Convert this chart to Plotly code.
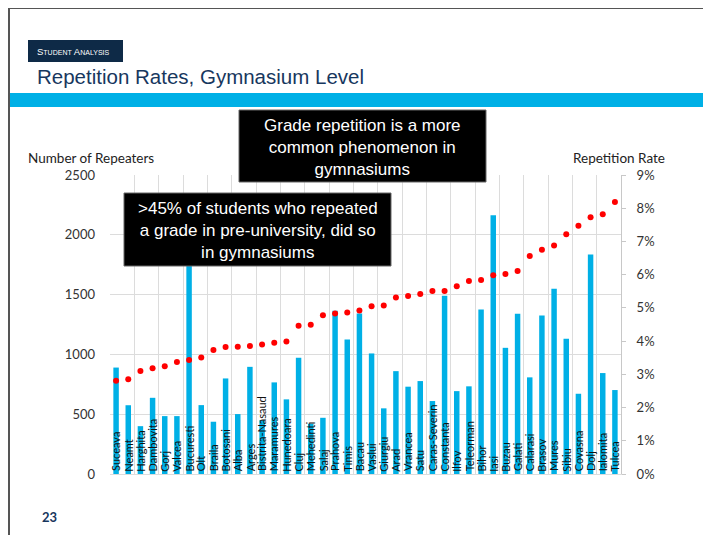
import plotly.graph_objects as go

counties = ["Suceava", "Neamt", "Harghita", "Dambovita", "Gorj", "Valcea", "Bucuresti", "Olt",
            "Braila", "Botosani", "Alba", "Arges", "Bistrita-Nasaud", "Maramures", "Hunedoara",
            "Cluj", "Mehedinti", "Salaj", "Prahova", "Timis", "Bacau", "Vaslui", "Giurgiu", "Arad",
            "Vrancea", "Satu", "Caras-Severin", "Constanta", "Ilfov", "Teleorman", "Bihor", "Iasi",
            "Buzau", "Galati", "Calarasi", "Brasov", "Mures", "Sibiu", "Covasna", "Dolj",
            "Ialomita", "Tulcea"]
repeaters = [890, 575, 400, 637, 484, 484, 2100, 576,
             437, 799, 501, 896, 450, 766, 624,
             972, 420, 470, 1364, 1125, 1342, 1008, 549, 860,
             730, 777, 610, 1490, 693, 733, 1376, 2164,
             1055, 1339, 808, 1326, 1548, 1130, 671, 1835,
             844, 702]
rate = [2.81, 2.85, 3.10, 3.18, 3.24, 3.37, 3.43, 3.51,
        3.73, 3.82, 3.83, 3.85, 3.90, 3.95, 3.99,
        4.46, 4.49, 4.78, 4.83, 4.86, 4.92, 5.05, 5.07, 5.31,
        5.36, 5.42, 5.51, 5.51, 5.65, 5.81, 5.84, 5.98,
        6.02, 6.11, 6.56, 6.75, 6.88, 7.22, 7.47, 7.73,
        7.82, 8.19]
rate = [r / 100 for r in rate]

NAVY = "#17375e"
CYAN = "#00b0e6"
GRID = "#dcdcdc"
TXT = "#333333"

# page body has an 8px margin, so the figure starts at (8, 8) in the window
OFF = 8
W, H = 711 - OFF, 535 - OFF
# plot area in window pixels
L, R, T, B = 110, 621, 175, 474


def px(x):
    return (x - L) / (R - L)


def py(y):
    return (B - y) / (B - T)


fig = go.Figure()
fig.add_trace(go.Bar(x=counties, y=repeaters, name="Repeaters",
                     marker=dict(color=CYAN, line=dict(width=0)), yaxis="y"))
fig.add_trace(go.Scatter(x=counties, y=rate, name="Rate", mode="markers",
                         marker=dict(color="#ff0000", size=6), yaxis="y2"))

# rotated county labels at bar bases
for c in counties:
    fig.add_annotation(x=c, y=5, xref="x", yref="y", text=c, textangle=-90,
                       showarrow=False, xanchor="center", yanchor="bottom",
                       font=dict(family="Lato, sans-serif", size=11, color="#111111"))

shapes = [
    # slide frame
    dict(type="line", xref="paper", yref="paper", x0=px(9), x1=px(711), y0=py(8), y1=py(8),
         line=dict(color="#555555", width=2)),
    dict(type="line", xref="paper", yref="paper", x0=px(9), x1=px(9), y0=py(8), y1=py(535),
         line=dict(color="#555555", width=2)),
    # cyan band
    dict(type="rect", xref="paper", yref="paper", x0=px(10), x1=px(711), y0=py(107), y1=py(93),
         fillcolor=CYAN, line=dict(width=0)),
    # section tag
    dict(type="rect", xref="paper", yref="paper", x0=px(28), x1=px(123), y0=py(62), y1=py(40),
         fillcolor="#0e2a47", line=dict(width=0)),
    # callout boxes
    dict(type="rect", xref="paper", yref="paper", x0=px(239), x1=px(486), y0=py(182), y1=py(110),
         fillcolor="black", line=dict(color="#666666", width=1), layer="above"),
    dict(type="rect", xref="paper", yref="paper", x0=px(124), x1=px(391), y0=py(266), y1=py(193),
         fillcolor="black", line=dict(color="#666666", width=1), layer="above"),
]

sm = '<span style="font-size:7px">'
notes = [
    (f"S{sm}TUDENT</span> A{sm}NALYSIS</span>", 35, 51, "left", 9.5, "white", "Liberation Sans"),
    ("Repetition Rates, Gymnasium Level", 35, 76, "left", 20.5, NAVY, "Liberation Sans"),
    ("Grade repetition is a more<br>common phenomenon in<br>gymnasiums", 362.5, 147, "center", 17, "white", "Liberation Sans"),
    (">45% of students who repeated<br>a grade in pre-university, did so<br>in gymnasiums", 257.5, 230, "center", 17, "white", "Liberation Sans"),
    ("Number of Repeaters", 26, 158, "left", 13.5, "#222222", "Lato, sans-serif"),
    ("Repetition Rate", 667, 158, "right", 13.5, "#222222", "Lato, sans-serif"),
    ("<b>23</b>", 40, 517, "left", 13, NAVY, "Lato, sans-serif"),
]
for text, x, y, anchor, size, color, fam in notes:
    fig.add_annotation(text=text, x=px(x), y=py(y), xref="paper", yref="paper",
                       xanchor=anchor, yanchor="middle", align="center", showarrow=False,
                       font=dict(family=fam, size=size, color=color))

fig.update_layout(
    width=W, height=H,
    margin=dict(l=L - OFF, r=W - (R - OFF), t=T - OFF, b=H - (B - OFF)),
    paper_bgcolor="white", plot_bgcolor="white",
    showlegend=False, bargap=0.55,
    font=dict(family="Lato, sans-serif", size=13, color=TXT),
    shapes=shapes,
    xaxis=dict(type="category", tickson="boundaries", showticklabels=False, ticks="",
               showgrid=True, gridcolor=GRID, gridwidth=1, showline=True, linecolor=GRID,
               range=[-0.5, len(counties) - 0.5], fixedrange=True),
    yaxis=dict(range=[0, 2500], dtick=500, showgrid=True, gridcolor=GRID, zeroline=False,
               showline=False, ticklabelstandoff=14, tickfont=dict(size=13, color=TXT)),
    yaxis2=dict(range=[0, 0.09], dtick=0.01, tickformat=".0%", overlaying="y", side="right",
                showgrid=False, zeroline=False, showline=True, linecolor="#c8c8c8",
                ticks="outside", ticklen=4, tickcolor="#c8c8c8", ticklabelstandoff=8,
                tickfont=dict(size=13, color=TXT)),
)

fig.write_html("out.html")
